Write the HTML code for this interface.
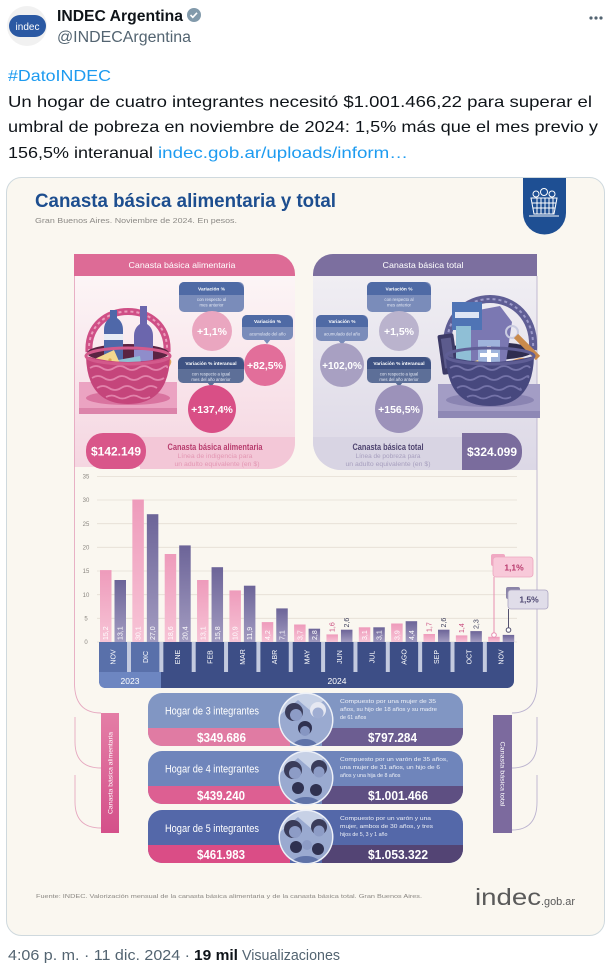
<!DOCTYPE html>
<html><head><meta charset="utf-8"><style>
html,body{margin:0;padding:0;background:#fff;width:610px;height:965px;overflow:hidden}
svg{display:block;font-family:"Liberation Sans",Arial,sans-serif}
</style></head><body>
<svg width="610" height="965" viewBox="0 0 610 965" xmlns="http://www.w3.org/2000/svg">
<defs>
<linearGradient id="pb" x1="0" y1="0" x2="0" y2="1"><stop offset="0" stop-color="#ee9bbb"/><stop offset="1" stop-color="#f7c4d6"/></linearGradient>
<linearGradient id="ub" x1="0" y1="0" x2="0" y2="1"><stop offset="0" stop-color="#6c6498"/><stop offset="1" stop-color="#a39cc1"/></linearGradient>
<linearGradient id="lp" x1="0" y1="0" x2="0" y2="1"><stop offset="0" stop-color="#fcf5f6"/><stop offset="1" stop-color="#f5d6e1"/></linearGradient>
<linearGradient id="rp" x1="0" y1="0" x2="0" y2="1"><stop offset="0" stop-color="#f0eef3"/><stop offset="1" stop-color="#dcd8e6"/></linearGradient>
<linearGradient id="sp" x1="0" y1="0" x2="0" y2="1"><stop offset="0" stop-color="#e47ea6"/><stop offset="1" stop-color="#d4508a"/></linearGradient>
<clipPath id="c1"><circle cx="306" cy="720" r="26"/></clipPath>
<clipPath id="c2"><circle cx="306" cy="778" r="26"/></clipPath>
<clipPath id="c3"><circle cx="306" cy="837" r="26"/></clipPath>
</defs>

<!-- Tweet header -->
<circle cx="27" cy="26" r="20" fill="#f1f1f1"/>
<rect x="9" y="15" width="37" height="22" rx="11" fill="#2b59a3"/>
<text x="27.5" y="30" font-size="10" fill="#fff" text-anchor="middle">indec</text>
<text x="57" y="21" font-size="15.5" font-weight="bold" fill="#0f1419" textLength="126" lengthAdjust="spacingAndGlyphs">INDEC Argentina</text>
<circle cx="194" cy="15" r="7" fill="#829aab"/>
<path d="M190.5,15 l2.3,2.3 l4.2,-4.5" stroke="#fff" stroke-width="1.6" fill="none"/>
<text x="57" y="42" font-size="15.5" fill="#536471" textLength="134" lengthAdjust="spacingAndGlyphs">@INDECArgentina</text>
<circle cx="591" cy="18" r="1.6" fill="#536471"/><circle cx="596" cy="18" r="1.6" fill="#536471"/><circle cx="601" cy="18" r="1.6" fill="#536471"/>
<text x="8" y="81" font-size="16" fill="#1d9bf0" textLength="103" lengthAdjust="spacingAndGlyphs">#DatoINDEC</text>
<text x="8" y="107" font-size="16" fill="#0f1419" textLength="584" lengthAdjust="spacingAndGlyphs">Un hogar de cuatro integrantes necesitó $1.001.466,22 para superar el</text>
<text x="8" y="132" font-size="16" fill="#0f1419" textLength="590" lengthAdjust="spacingAndGlyphs">umbral de pobreza en noviembre de 2024: 1,5% más que el mes previo y</text>
<text x="8" y="158" font-size="16" fill="#0f1419" textLength="145" lengthAdjust="spacingAndGlyphs">156,5% interanual</text>
<text x="158" y="158" font-size="16" fill="#1d9bf0" textLength="250" lengthAdjust="spacingAndGlyphs">indec.gob.ar/uploads/inform…</text>

<!-- Card -->
<rect x="6.5" y="177.5" width="598" height="758" rx="15" fill="#faf7f0" stroke="#cfd9de"/>

<!-- Title -->
<text x="35" y="207" font-size="19" font-weight="bold" fill="#1d4e8f" textLength="301" lengthAdjust="spacingAndGlyphs">Canasta básica alimentaria y total</text>
<text x="35" y="223" font-size="7.5" fill="#8c8a86" textLength="202" lengthAdjust="spacingAndGlyphs">Gran Buenos Aires. Noviembre de 2024. En pesos.</text>
<!-- Badge -->
<path d="M523,178 H566 V213 A21.5,21.5 0 0 1 523,213 Z" fill="#1e4f93"/>
<g stroke="#fff" stroke-width="1" fill="none">
<path d="M531,198 H557 L554,214 H534 Z"/>
<path d="M532,203 H556 M533,208 H555 M537,198 V214 M541,198 V214 M545,198 V214 M549,198 V214 M553,198 V214"/>
<path d="M529,216 H559"/>
<circle cx="536" cy="194" r="3"/><circle cx="544" cy="192" r="3.5"/><circle cx="552" cy="194" r="3"/>
</g>

<!-- Left panel -->
<path d="M74,276 H295 V442 A25,25 0 0 1 270,467 H74 Z" fill="url(#lp)"/>
<path d="M74,276 V254 H275 A20,20 0 0 1 295,274 V276 Z" fill="#dd6b96"/>
<text x="182" y="268" font-size="8.5" fill="#fff" text-anchor="middle" textLength="107" lengthAdjust="spacingAndGlyphs">Canasta básica alimentaria</text>
<path d="M140,437 H295 V443 A26,26 0 0 1 269,469 H140 Z" fill="#f3c7d7"/>
<rect x="86" y="433" width="60" height="36" rx="17" fill="#d9568a"/>
<text x="116" y="455.5" font-size="11.5" font-weight="bold" fill="#fff" text-anchor="middle" textLength="50" lengthAdjust="spacingAndGlyphs">$142.149</text>
<text x="215" y="450" font-size="9.5" font-weight="bold" fill="#b83d6e" text-anchor="middle" textLength="95" lengthAdjust="spacingAndGlyphs">Canasta básica alimentaria</text>
<text x="215" y="458" font-size="6.3" fill="#e397b3" text-anchor="middle" textLength="75" lengthAdjust="spacingAndGlyphs">Línea de indigencia para</text>
<text x="217" y="466" font-size="6.3" fill="#e397b3" text-anchor="middle" textLength="85" lengthAdjust="spacingAndGlyphs">un adulto equivalente (en $)</text>

<!-- Right panel -->
<path d="M313,276 H537 V470 H341 A28,28 0 0 1 313,442 Z" fill="url(#rp)"/>
<path d="M313,276 V274 A20,20 0 0 1 333,254 H537 V276 Z" fill="#7c6f9f"/>
<text x="423" y="268" font-size="8.5" fill="#fff" text-anchor="middle" textLength="81" lengthAdjust="spacingAndGlyphs">Canasta básica total</text>
<path d="M313,437 H470 V470 H341 A28,28 0 0 1 313,442 Z" fill="#d8d4e3"/>
<rect x="462" y="433" width="60" height="37" rx="17" fill="#7a6c9d"/>
<rect x="462" y="433" width="20" height="37" fill="#7a6c9d"/>
<text x="492" y="456" font-size="11.5" font-weight="bold" fill="#fff" text-anchor="middle" textLength="50" lengthAdjust="spacingAndGlyphs">$324.099</text>
<text x="388" y="450" font-size="9.5" font-weight="bold" fill="#4e436f" text-anchor="middle" textLength="71" lengthAdjust="spacingAndGlyphs">Canasta básica total</text>
<text x="388" y="458" font-size="6.3" fill="#a79fbe" text-anchor="middle" textLength="65" lengthAdjust="spacingAndGlyphs">Línea de pobreza para</text>
<text x="388" y="466" font-size="6.3" fill="#a79fbe" text-anchor="middle" textLength="85" lengthAdjust="spacingAndGlyphs">un adulto equivalente (en $)</text>

<!-- Frame lines -->
<g fill="none" stroke-width="0.9">
<path d="M74.5,276 V683 Q74.5,713 101,713" stroke="#e6a9c0"/>
<path d="M75,717 V742 Q75,768 101,768" stroke="#e6a9c0"/>
<path d="M75,775 V802 Q75,828 101,828" stroke="#e6a9c0"/>
<path d="M537,276 V683 Q537,713 512,713" stroke="#bbb3cf"/>
<path d="M537,717 V742 Q537,768 512,768" stroke="#bbb3cf"/>
<path d="M537,775 V802 Q537,830 512,830" stroke="#bbb3cf"/>
</g>

<!-- Variation boxes left -->
<g>
<rect x="179" y="282" width="65" height="30" rx="5" fill="#7a8cba"/>
<path d="M179,295 V287 A5,5 0 0 1 184,282 H236 A8,8 0 0 1 244,290 V295 Z" fill="#4f6aa5"/>
<path d="M208,311 L212,316 L216,311 Z" fill="#7a8cba"/>
<text x="211.5" y="290.5" font-size="4.8" font-weight="bold" fill="#fff" text-anchor="middle">Variación %</text>
<text x="211.5" y="301" font-size="4.3" fill="#e4e9f4" text-anchor="middle">con respecto al</text>
<text x="211.5" y="306.5" font-size="4.3" fill="#e4e9f4" text-anchor="middle">mes anterior</text>
<circle cx="212" cy="331" r="20" fill="#eaa6c0"/>
<text x="212" y="335" font-size="10.5" font-weight="bold" fill="#fff" text-anchor="middle">+1,1%</text>

<rect x="242" y="315" width="51" height="25" rx="5" fill="#7a8cba"/>
<path d="M242,327 V320 A5,5 0 0 1 247,315 H286 A7,7 0 0 1 293,322 V327 Z" fill="#4f6aa5"/>
<path d="M263,339 L267,344 L271,339 Z" fill="#7a8cba"/>
<text x="267.5" y="323" font-size="4.8" font-weight="bold" fill="#fff" text-anchor="middle">Variación %</text>
<text x="267.5" y="335.5" font-size="4.3" fill="#e4e9f4" text-anchor="middle">acumulado del año</text>
<circle cx="265" cy="365" r="21" fill="#e26e9a"/>
<text x="265" y="369" font-size="10.5" font-weight="bold" fill="#fff" text-anchor="middle">+82,5%</text>

<rect x="178" y="357" width="66" height="26" rx="5" fill="#5d6f98"/>
<path d="M178,369 V362 A5,5 0 0 1 183,357 H236 A8,8 0 0 1 244,365 V369 Z" fill="#3e5283"/>
<path d="M207,382 L211,387 L215,382 Z" fill="#5d6f98"/>
<text x="211" y="365" font-size="4.8" font-weight="bold" fill="#fff" text-anchor="middle">Variación % interanual</text>
<text x="211" y="375.5" font-size="4.3" fill="#e4e9f4" text-anchor="middle">con respecto a igual</text>
<text x="211" y="381" font-size="4.3" fill="#e4e9f4" text-anchor="middle">mes del año anterior</text>
<circle cx="212" cy="409" r="24" fill="#d94f86"/>
<text x="212" y="413" font-size="10.5" font-weight="bold" fill="#fff" text-anchor="middle">+137,4%</text>
</g>

<!-- Variation boxes right -->
<g>
<rect x="367" y="282" width="64" height="30" rx="5" fill="#7a8cba"/>
<path d="M367,295 V287 A5,5 0 0 1 372,282 H423 A8,8 0 0 1 431,290 V295 Z" fill="#4f6aa5"/>
<path d="M395,311 L399,316 L403,311 Z" fill="#7a8cba"/>
<text x="399" y="290.5" font-size="4.8" font-weight="bold" fill="#fff" text-anchor="middle">Variación %</text>
<text x="399" y="301" font-size="4.3" fill="#e4e9f4" text-anchor="middle">con respecto al</text>
<text x="399" y="306.5" font-size="4.3" fill="#e4e9f4" text-anchor="middle">mes anterior</text>
<circle cx="399" cy="331" r="20" fill="#bab3cd"/>
<text x="399" y="335" font-size="10.5" font-weight="bold" fill="#fff" text-anchor="middle">+1,5%</text>

<rect x="316" y="315" width="52" height="26" rx="5" fill="#7a8cba"/>
<path d="M316,327 V320 A5,5 0 0 1 321,315 H361 A7,7 0 0 1 368,322 V327 Z" fill="#4f6aa5"/>
<path d="M338,340 L342,345 L346,340 Z" fill="#7a8cba"/>
<text x="342" y="323" font-size="4.8" font-weight="bold" fill="#fff" text-anchor="middle">Variación %</text>
<text x="342" y="335.5" font-size="4.3" fill="#e4e9f4" text-anchor="middle">acumulado del año</text>
<circle cx="342" cy="365" r="22" fill="#a8a0c2"/>
<text x="342" y="369" font-size="10" font-weight="bold" fill="#fff" text-anchor="middle">+102,0%</text>

<rect x="367" y="357" width="64" height="26" rx="5" fill="#5d6f98"/>
<path d="M367,369 V362 A5,5 0 0 1 372,357 H423 A8,8 0 0 1 431,365 V369 Z" fill="#3e5283"/>
<path d="M395,382 L399,387 L403,382 Z" fill="#5d6f98"/>
<text x="399" y="365" font-size="4.8" font-weight="bold" fill="#fff" text-anchor="middle">Variación % interanual</text>
<text x="399" y="375.5" font-size="4.3" fill="#e4e9f4" text-anchor="middle">con respecto a igual</text>
<text x="399" y="381" font-size="4.3" fill="#e4e9f4" text-anchor="middle">mes del año anterior</text>
<circle cx="399" cy="409" r="24" fill="#9c92ba"/>
<text x="399" y="413" font-size="10.5" font-weight="bold" fill="#fff" text-anchor="middle">+156,5%</text>
</g>

<!-- Left basket -->
<g>
<rect x="79" y="382" width="98" height="32" fill="#eba3c2"/>
<rect x="79" y="408" width="98" height="6" fill="#dc84aa"/>
<ellipse cx="128" cy="398" rx="42" ry="7" fill="#d9739f"/>
<path d="M89,352 C86,298 170,298 167,352" fill="none" stroke="#cf4f86" stroke-width="7"/>
<path d="M89,352 C86,298 170,298 167,352" fill="none" stroke="#ec9dbd" stroke-width="2" stroke-dasharray="3 3"/>
<ellipse cx="128" cy="353" rx="41" ry="9" fill="#5a2342"/>
<path d="M104,362 L104,330 Q104,322 110,318 L110,310 L117,310 L117,318 Q123,322 123,330 L123,362 Z" fill="#4f68a9"/>
<rect x="104" y="334" width="19" height="6" fill="#e8ecf5"/>
<path d="M134,372 L134,336 Q134,328 140,324 L140,306 L147,306 L147,324 Q153,328 153,336 L153,372 Z" fill="#6b66ad"/>
<rect x="134" y="350" width="19" height="11" fill="#8f8dcb"/>
<polygon points="118,360 140,356 144,382 116,382" fill="#8fc0d4"/>
<polygon points="88,362 114,350 122,368 96,382" fill="#f3d78e"/>
<circle cx="100" cy="366" r="2" fill="#d9a84f"/><circle cx="110" cy="360" r="1.6" fill="#d9a84f"/><circle cx="108" cy="372" r="1.8" fill="#d9a84f"/>
<ellipse cx="157" cy="368" rx="16" ry="7" transform="rotate(-30 157 368)" fill="#e2a05e"/>
<path d="M86,356 Q87,404 128,404 Q169,404 170,356 Q128,368 86,356Z" fill="#c5457b"/>
<g fill="none" stroke="#e283ab" stroke-width="1.8">
<path d="M90,368 q6,-4 12,0 t12,0 t12,0 t12,0 t12,0 t12,0 t5,0"/>
<path d="M92,378 q6,-4 12,0 t12,0 t12,0 t12,0 t12,0 t12,0"/>
<path d="M97,388 q6,-4 12,0 t12,0 t12,0 t12,0 t12,0"/>
<path d="M106,397 q6,-3 11,0 t11,0 t11,0 t11,0"/>
</g>
<ellipse cx="128" cy="356" rx="42" ry="8" fill="none" stroke="#d35a8c" stroke-width="3"/>
</g>

<!-- Right basket -->
<g>
<rect x="438" y="384" width="102" height="34" fill="#a39dc5"/>
<rect x="438" y="411" width="102" height="7" fill="#8e88b5"/>
<ellipse cx="490" cy="400" rx="44" ry="7" fill="#8a84b2"/>
<path d="M447,350 C443,282 537,282 533,350" fill="none" stroke="#5f5e95" stroke-width="8"/>
<path d="M447,350 C443,282 537,282 533,350" fill="none" stroke="#9c9ac9" stroke-width="2" stroke-dasharray="3 3"/>
<ellipse cx="490" cy="351" rx="43" ry="9" fill="#2e2d50"/>
<polygon points="468,312 500,306 512,322 506,362 470,362" fill="#7b78b2"/>
<rect x="452" y="302" width="30" height="28" fill="#4f74b5"/>
<rect x="455" y="312" width="24" height="6" fill="#dfe6f5"/>
<rect x="440" y="334" width="16" height="40" rx="2" fill="#3c3a66" transform="rotate(-8 448 354)"/>
<rect x="443" y="338" width="10" height="30" fill="#5c5b8d" transform="rotate(-8 448 354)"/>
<rect x="456" y="326" width="15" height="40" fill="#8fbfd6"/>
<rect x="478" y="340" width="22" height="32" fill="#9fb4dc"/>
<path d="M489,346 V364 M480,355 H498" stroke="#fff" stroke-width="4"/>
<circle cx="512" cy="332" r="6" fill="none" stroke="#c9cbe0" stroke-width="2"/>
<path d="M516,336 L538,358" stroke="#c98a4c" stroke-width="6"/>
<ellipse cx="512" cy="370" rx="18" ry="8" transform="rotate(-35 512 370)" fill="#e2a05e"/>
<polygon points="455,368 478,360 484,378 462,384" fill="#f3d78e"/>
<path d="M446,356 Q447,406 490,406 Q533,406 534,356 Q490,368 446,356Z" fill="#47487e"/>
<g fill="none" stroke="#7473a8" stroke-width="1.8">
<path d="M450,368 q6,-4 12,0 t12,0 t12,0 t12,0 t12,0 t12,0 t8,0"/>
<path d="M452,378 q6,-4 12,0 t12,0 t12,0 t12,0 t12,0 t12,0 t4,0"/>
<path d="M457,388 q6,-4 12,0 t12,0 t12,0 t12,0 t12,0 t3,0"/>
<path d="M467,397 q6,-3 11,0 t11,0 t11,0 t11,0"/>
</g>
<ellipse cx="490" cy="356" rx="44" ry="8" fill="none" stroke="#5f5e95" stroke-width="3"/>
</g>

<!-- Chart grid -->
<g stroke="#e4ded4" stroke-width="0.8">
<line x1="97" y1="476.4" x2="517" y2="476.4"/>
<line x1="97" y1="500" x2="517" y2="500"/>
<line x1="97" y1="523.7" x2="517" y2="523.7"/>
<line x1="97" y1="547.3" x2="517" y2="547.3"/>
<line x1="97" y1="571" x2="517" y2="571"/>
<line x1="97" y1="594.7" x2="517" y2="594.7"/>
<line x1="97" y1="618.3" x2="517" y2="618.3"/>
<line x1="97" y1="642" x2="517" y2="642"/>
</g>
<g font-size="6" fill="#8a8680" text-anchor="middle">
<text x="86" y="478.5">35</text><text x="86" y="502">30</text><text x="86" y="525.8">25</text>
<text x="86" y="549.4">20</text><text x="86" y="573">15</text><text x="86" y="596.8">10</text>
<text x="86" y="620.4">5</text><text x="86" y="644">0</text>
</g>

<!-- Bars -->
<g fill="url(#pb)">
<rect x="100" y="570.1" width="11.5" height="71.9"/>
<rect x="132.35" y="499.5" width="11.5" height="142.5"/>
<rect x="164.7" y="554" width="11.5" height="88"/>
<rect x="197.05" y="580" width="11.5" height="62"/>
<rect x="229.4" y="590.4" width="11.5" height="51.6"/>
<rect x="261.75" y="622.1" width="11.5" height="19.9"/>
<rect x="294.1" y="624.5" width="11.5" height="17.5"/>
<rect x="326.45" y="634.4" width="11.5" height="7.6"/>
<rect x="358.8" y="627.3" width="11.5" height="14.7"/>
<rect x="391.15" y="623.5" width="11.5" height="18.5"/>
<rect x="423.5" y="634" width="11.5" height="8"/>
<rect x="455.85" y="635.4" width="11.5" height="6.6"/>
<rect x="488.2" y="636.8" width="11.5" height="5.2"/>
</g>
<g fill="url(#ub)">
<rect x="114.5" y="580" width="11.5" height="62"/>
<rect x="146.85" y="514.2" width="11.5" height="127.8"/>
<rect x="179.2" y="545.4" width="11.5" height="96.6"/>
<rect x="211.55" y="567.2" width="11.5" height="74.8"/>
<rect x="243.9" y="585.7" width="11.5" height="56.3"/>
<rect x="276.25" y="608.4" width="11.5" height="33.6"/>
<rect x="308.6" y="628.7" width="11.5" height="13.3"/>
<rect x="340.95" y="629.7" width="11.5" height="12.3"/>
<rect x="373.3" y="627.3" width="11.5" height="14.7"/>
<rect x="405.65" y="621.2" width="11.5" height="20.8"/>
<rect x="438" y="629.7" width="11.5" height="12.3"/>
<rect x="470.35" y="631.1" width="11.5" height="10.9"/>
<rect x="502.7" y="634.9" width="11.5" height="7.1"/>
</g>
<!-- bar labels -->
<g font-size="7" fill="#fff">
<text transform="translate(108.2,640) rotate(-90)">15,2</text>
<text transform="translate(140.6,640) rotate(-90)">30,1</text>
<text transform="translate(172.9,640) rotate(-90)">18,6</text>
<text transform="translate(205.3,640) rotate(-90)">13,1</text>
<text transform="translate(237.6,640) rotate(-90)">10,9</text>
<text transform="translate(270,640) rotate(-90)">4,2</text>
<text transform="translate(302.3,640) rotate(-90)">3,7</text>
<text transform="translate(367,640) rotate(-90)">3,1</text>
<text transform="translate(399.4,640) rotate(-90)">3,9</text>
<text transform="translate(122.7,640) rotate(-90)">13,1</text>
<text transform="translate(155.1,640) rotate(-90)">27,0</text>
<text transform="translate(187.4,640) rotate(-90)">20,4</text>
<text transform="translate(219.8,640) rotate(-90)">15,8</text>
<text transform="translate(252.1,640) rotate(-90)">11,9</text>
<text transform="translate(284.5,640) rotate(-90)">7,1</text>
<text transform="translate(316.8,640) rotate(-90)">2,8</text>
<text transform="translate(381.5,640) rotate(-90)">3,1</text>
<text transform="translate(413.9,640) rotate(-90)">4,4</text>
</g>
<g font-size="7">
<text transform="translate(334.6,632) rotate(-90)" fill="#c94b7e">1,6</text>
<text transform="translate(431.7,632) rotate(-90)" fill="#c94b7e">1,7</text>
<text transform="translate(464,633) rotate(-90)" fill="#c94b7e">1,4</text>
<text transform="translate(349.2,627.5) rotate(-90)" fill="#3b3d5a">2,6</text>
<text transform="translate(446.2,627.5) rotate(-90)" fill="#3b3d5a">2,6</text>
<text transform="translate(478.6,629) rotate(-90)" fill="#3b3d5a">2,3</text>
</g>

<!-- Month band -->
<rect x="99" y="642" width="415" height="46" rx="7" fill="#3d4e86"/>
<rect x="99" y="642" width="415" height="20" fill="#3d4e86"/>
<rect x="99" y="642" width="61" height="30" fill="#5970aa"/>
<path d="M99,672 H161 V688 H106 Q99,688 99,681 Z" fill="#6d86c1"/>
<g fill="#c3cadf">
<rect x="127" y="642" width="4" height="30"/><rect x="159.35" y="642" width="4" height="30"/>
<rect x="191.7" y="642" width="4" height="30"/><rect x="224.05" y="642" width="4" height="30"/>
<rect x="256.4" y="642" width="4" height="30"/><rect x="288.75" y="642" width="4" height="30"/>
<rect x="321.1" y="642" width="4" height="30"/><rect x="353.45" y="642" width="4" height="30"/>
<rect x="385.8" y="642" width="4" height="30"/><rect x="418.15" y="642" width="4" height="30"/>
<rect x="450.5" y="642" width="4" height="30"/><rect x="482.85" y="642" width="4" height="30"/>
</g>
<g font-size="7" fill="#fff" text-anchor="middle">
<text transform="translate(115.5,657) rotate(-90)">NOV</text>
<text transform="translate(147.8,657) rotate(-90)">DIC</text>
<text transform="translate(180.2,657) rotate(-90)">ENE</text>
<text transform="translate(212.5,657) rotate(-90)">FEB</text>
<text transform="translate(244.9,657) rotate(-90)">MAR</text>
<text transform="translate(277.2,657) rotate(-90)">ABR</text>
<text transform="translate(309.6,657) rotate(-90)">MAY</text>
<text transform="translate(341.9,657) rotate(-90)">JUN</text>
<text transform="translate(374.3,657) rotate(-90)">JUL</text>
<text transform="translate(406.6,657) rotate(-90)">AGO</text>
<text transform="translate(439,657) rotate(-90)">SEP</text>
<text transform="translate(471.3,657) rotate(-90)">OCT</text>
<text transform="translate(503.7,657) rotate(-90)">NOV</text>
</g>
<text x="130" y="684" font-size="8.5" fill="#fff" text-anchor="middle">2023</text>
<text x="337" y="684" font-size="8.5" fill="#fff" text-anchor="middle">2024</text>

<!-- Callouts -->
<rect x="491" y="554" width="14" height="12" rx="2" fill="#f0a9c3"/>
<rect x="493" y="557" width="40" height="20" rx="3" fill="#f8c9d9" stroke="#eca6bf" stroke-width="0.8"/>
<text x="514" y="570.5" font-size="8.5" font-weight="bold" fill="#b8386c" text-anchor="middle">1,1%</text>
<line x1="494" y1="577" x2="494" y2="633" stroke="#e88fb1" stroke-width="1"/>
<circle cx="494" cy="635" r="2.3" fill="#fff" stroke="#e88fb1" stroke-width="1"/>
<rect x="506" y="587" width="14" height="12" rx="2" fill="#8b84a8"/>
<rect x="508" y="590" width="40" height="19" rx="3" fill="#e0dde9" stroke="#aaa3c1" stroke-width="0.8"/>
<text x="529" y="602.5" font-size="8.5" font-weight="bold" fill="#4b4570" text-anchor="middle">1,5%</text>
<line x1="508.5" y1="609" x2="508.5" y2="628" stroke="#555370" stroke-width="1"/>
<circle cx="508.5" cy="630" r="2.3" fill="#fff" stroke="#555370" stroke-width="1"/>

<!-- Side bars -->
<rect x="101" y="713" width="18" height="120" fill="url(#sp)"/>
<text transform="translate(112.5,773) rotate(-90)" font-size="6.5" fill="#fff" text-anchor="middle" textLength="82" lengthAdjust="spacingAndGlyphs">Canasta básica alimentaria</text>
<rect x="493" y="715" width="19" height="118" fill="#7c6a9e"/>
<text transform="translate(500.5,774) rotate(90)" font-size="6.5" fill="#fff" text-anchor="middle" textLength="65" lengthAdjust="spacingAndGlyphs">Canasta básica total</text>

<!-- Household cards -->
<g>
<rect x="148" y="693" width="315" height="53" rx="14" fill="#8196c3"/>
<path d="M148,728 H290 V746 H162 A14,14 0 0 1 148,732 Z" fill="#e07ba3"/>
<path d="M322,728 H463 V732 A14,14 0 0 1 449,746 H322 Z" fill="#6c5d91"/>
<rect x="148" y="751" width="315" height="53" rx="14" fill="#6f85bb"/>
<path d="M148,786 H290 V804 H162 A14,14 0 0 1 148,790 Z" fill="#dd5f92"/>
<path d="M322,786 H463 V790 A14,14 0 0 1 449,804 H322 Z" fill="#5e4f82"/>
<rect x="148" y="810" width="315" height="53" rx="14" fill="#5468a9"/>
<path d="M148,845 H290 V863 H162 A14,14 0 0 1 148,849 Z" fill="#da4d86"/>
<path d="M322,845 H463 V849 A14,14 0 0 1 449,863 H322 Z" fill="#534474"/>
</g>
<g font-size="11" fill="#fff">
<text x="165" y="714.5" textLength="94" lengthAdjust="spacingAndGlyphs">Hogar de 3 integrantes</text>
<text x="165" y="772.5" textLength="94" lengthAdjust="spacingAndGlyphs">Hogar de 4 integrantes</text>
<text x="165" y="832" textLength="94" lengthAdjust="spacingAndGlyphs">Hogar de 5 integrantes</text>
</g>
<g font-size="13" font-weight="bold" fill="#fff">
<text x="197" y="742" textLength="49" lengthAdjust="spacingAndGlyphs">$349.686</text>
<text x="368" y="742" textLength="49" lengthAdjust="spacingAndGlyphs">$797.284</text>
<text x="197" y="800" textLength="48" lengthAdjust="spacingAndGlyphs">$439.240</text>
<text x="368" y="800" textLength="60" lengthAdjust="spacingAndGlyphs">$1.001.466</text>
<text x="197" y="859" textLength="48" lengthAdjust="spacingAndGlyphs">$461.983</text>
<text x="368" y="859" textLength="60" lengthAdjust="spacingAndGlyphs">$1.053.322</text>
</g>
<g font-size="5.3" fill="#eef1f8">
<text x="340" y="703" textLength="96" lengthAdjust="spacingAndGlyphs">Compuesto por una mujer de 35</text>
<text x="340" y="711" textLength="97" lengthAdjust="spacingAndGlyphs">años, su hijo de 18 años y su madre</text>
<text x="340" y="719">de 61 años</text>
<text x="340" y="761" textLength="108" lengthAdjust="spacingAndGlyphs">Compuesto por un varón de 35 años,</text>
<text x="340" y="769" textLength="100" lengthAdjust="spacingAndGlyphs">una mujer de 31 años, un hijo de 6</text>
<text x="340" y="777">años y una hija de 8 años</text>
<text x="340" y="820" textLength="91" lengthAdjust="spacingAndGlyphs">Compuesto por un varón y una</text>
<text x="340" y="828" textLength="93" lengthAdjust="spacingAndGlyphs">mujer, ambos de 30 años, y tres</text>
<text x="340" y="836">hijos de 5, 3 y 1 año</text>
</g>

<!-- People circles -->
<g>
<circle cx="306" cy="720" r="27.5" fill="#eef1f8"/>
<g clip-path="url(#c1)">
<rect x="278" y="692" width="56" height="56" fill="#c7d1e6"/>
<polygon points="280,715 298,700 312,712 326,698 336,716 336,750 280,750" fill="#9aaad0"/>
<circle cx="294" cy="712" r="9" fill="#3a3c5a"/><circle cx="296" cy="715" r="6" fill="#8d9cc6"/>
<circle cx="318" cy="710" r="8" fill="#e6e8f2"/><circle cx="318" cy="713" r="5.5" fill="#9fadd2"/>
<circle cx="305" cy="728" r="7" fill="#2f3150"/><circle cx="305" cy="731" r="5" fill="#8696c2"/>
<ellipse cx="305" cy="748" rx="13" ry="9" fill="#5f73a8"/>
</g>
<circle cx="306" cy="778" r="27.5" fill="#eef1f8"/>
<g clip-path="url(#c2)">
<rect x="278" y="750" width="56" height="56" fill="#c7d1e6"/>
<polygon points="280,773 298,758 312,770 326,756 336,774 336,808 280,808" fill="#9aaad0"/>
<circle cx="293" cy="770" r="9" fill="#3a3c5a"/><circle cx="295" cy="773" r="6" fill="#8d9cc6"/>
<circle cx="319" cy="768" r="8" fill="#3a3c5a"/><circle cx="319" cy="772" r="5.5" fill="#8d9cc6"/>
<circle cx="298" cy="788" r="6" fill="#2f3150"/><circle cx="316" cy="790" r="6" fill="#2f3150"/>
<ellipse cx="306" cy="806" rx="15" ry="9" fill="#5f73a8"/>
</g>
<circle cx="306" cy="837" r="27.5" fill="#eef1f8"/>
<g clip-path="url(#c3)">
<rect x="278" y="809" width="56" height="56" fill="#c7d1e6"/>
<polygon points="280,832 298,817 312,829 326,815 336,833 336,867 280,867" fill="#9aaad0"/>
<circle cx="293" cy="829" r="9" fill="#3a3c5a"/><circle cx="295" cy="832" r="6" fill="#8d9cc6"/>
<circle cx="319" cy="827" r="8" fill="#3a3c5a"/><circle cx="319" cy="831" r="5.5" fill="#8d9cc6"/>
<circle cx="296" cy="847" r="6" fill="#2f3150"/><circle cx="307" cy="845" r="5" fill="#8d9cc6"/><circle cx="318" cy="849" r="6" fill="#2f3150"/>
<ellipse cx="306" cy="865" rx="15" ry="9" fill="#5f73a8"/>
</g>
</g>

<!-- Footer -->
<text x="36" y="898" font-size="5.5" fill="#8a8782" textLength="386" lengthAdjust="spacingAndGlyphs">Fuente: INDEC. Valorización mensual de la canasta básica alimentaria y de la canasta básica total. Gran Buenos Aires.</text>
<text x="475" y="905" font-size="23" fill="#5a5a5a" textLength="66" lengthAdjust="spacingAndGlyphs">indec</text>
<text x="541" y="905" font-size="11" fill="#5a5a5a" textLength="34" lengthAdjust="spacingAndGlyphs">.gob.ar</text>

<!-- Timestamp -->
<text x="8" y="960" font-size="15" fill="#536471" textLength="182" lengthAdjust="spacingAndGlyphs">4:06 p. m. · 11 dic. 2024 ·</text>
<text x="194" y="960" font-size="15" font-weight="bold" fill="#0f1419" textLength="44" lengthAdjust="spacingAndGlyphs">19 mil</text>
<text x="242" y="960" font-size="15" fill="#536471" textLength="98" lengthAdjust="spacingAndGlyphs">Visualizaciones</text>
</svg>
</body></html>
